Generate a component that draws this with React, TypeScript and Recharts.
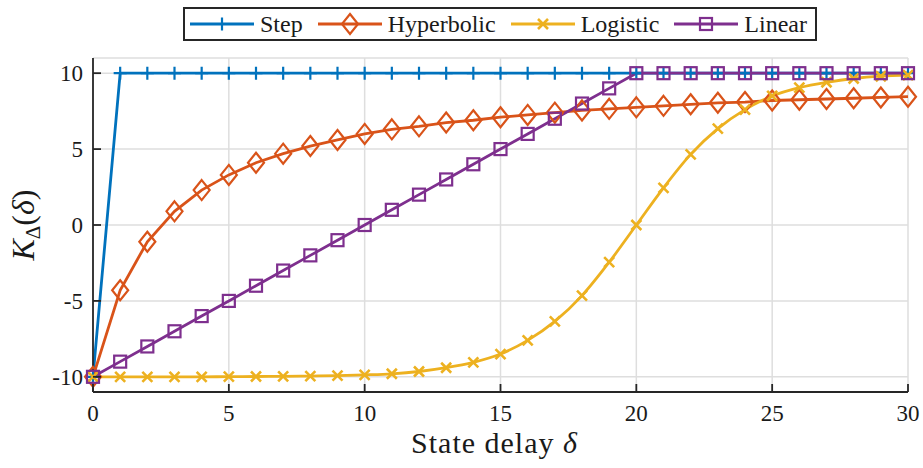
import React from 'react';
import { LineChart, Line, XAxis, YAxis, CartesianGrid, Legend } from 'recharts';

const delays = [0, 1, 2, 3, 4, 5, 6, 7, 8, 9, 10, 11, 12, 13, 14, 15, 16, 17, 18, 19, 20, 21, 22, 23, 24, 25, 26, 27, 28, 29, 30];
const stepValues = [-10, 10, 10, 10, 10, 10, 10, 10, 10, 10, 10, 10, 10, 10, 10, 10, 10, 10, 10, 10, 10, 10, 10, 10, 10, 10, 10, 10, 10, 10, 10];
const hyperbolicValues = [-10, -4.3, -1.1, 0.9, 2.3, 3.3, 4.1, 4.7, 5.2, 5.6, 6.0, 6.3, 6.5, 6.75, 6.9, 7.1, 7.25, 7.4, 7.55, 7.65, 7.75, 7.85, 7.95, 8.05, 8.1, 8.2, 8.25, 8.3, 8.35, 8.4, 8.45];
const logisticValues = [-10, -10, -10, -10, -10, -9.99, -9.98, -9.97, -9.95, -9.92, -9.87, -9.8, -9.65, -9.4, -9.05, -8.5, -7.6, -6.35, -4.65, -2.45, 0, 2.45, 4.65, 6.35, 7.6, 8.5, 9.05, 9.4, 9.65, 9.8, 9.87];
const linearValues = [-10, -9, -8, -7, -6, -5, -4, -3, -2, -1, 0, 1, 2, 3, 4, 5, 6, 7, 8, 9, 10, 10, 10, 10, 10, 10, 10, 10, 10, 10, 10];

const xTicks = [0, 5, 10, 15, 20, 25, 30];
const yTicks = [-10, -5, 0, 5, 10];

const seriesNames = ['Step', 'Hyperbolic', 'Logistic', 'Linear'];
const seriesKeys = ['step', 'hyperbolic', 'logistic', 'linear'];
const seriesColors = ['#0072BD', '#D95319', '#EDB120', '#7E2F8E'];
const seriesMarkers = ['plus', 'diamond', 'cross', 'square'];

const data = delays.map((d, i) => ({
  delay: d,
  step: stepValues[i],
  hyperbolic: hyperbolicValues[i],
  logistic: logisticValues[i],
  linear: linearValues[i],
}));

const FONT = "'Liberation Serif', 'DejaVu Serif', serif";
const AXIS = '#262626';
const TEXT = '#1a1a1a';
const TICK_LEN = 8;
const textStyle = (size: number) => ({ fontFamily: FONT, fontSize: size });

function Marker({ kind, cx, cy, color }: any) {
  if (cx == null || cy == null) return null;
  const common = { stroke: color, strokeWidth: 2.2, fill: 'none' };
  switch (kind) {
    case 'plus':
      return <path d={`M${cx - 6.5},${cy}H${cx + 6.5}M${cx},${cy - 6.5}V${cy + 6.5}`} {...common} />;
    case 'diamond':
      return <path d={`M${cx},${cy - 10}L${cx + 8},${cy}L${cx},${cy + 10}L${cx - 8},${cy}Z`} {...common} />;
    case 'cross':
      return <path d={`M${cx - 5},${cy - 5}L${cx + 5},${cy + 5}M${cx - 5},${cy + 5}L${cx + 5},${cy - 5}`} {...common} strokeWidth={2.6} />;
    default:
      return <rect x={cx - 6} y={cy - 6} width={12} height={12} {...common} />;
  }
}

const BottomTick = (p: any) => (
  <g>
    <line x1={p.x} x2={p.x} y1={p.y} y2={p.y - TICK_LEN} stroke={AXIS} strokeWidth={1.8} />
    <text x={p.x} y={p.y + 29} textAnchor="middle" style={textStyle(23)} fill={TEXT}>
      {String(p.payload.value)}
    </text>
  </g>
);
const TopTick = (p: any) => (
  <line x1={p.x} x2={p.x} y1={p.y} y2={p.y + TICK_LEN} stroke={AXIS} strokeWidth={1.8} />
);
const LeftTick = (p: any) => (
  <g>
    <line x1={p.x} x2={p.x + TICK_LEN} y1={p.y} y2={p.y} stroke={AXIS} strokeWidth={1.8} />
    <text x={p.x - 10} y={p.y + 8} textAnchor="end" style={textStyle(23)} fill={TEXT}>
      {String(p.payload.value)}
    </text>
  </g>
);
const RightTick = (p: any) => (
  <line x1={p.x} x2={p.x - TICK_LEN} y1={p.y} y2={p.y} stroke={AXIS} strokeWidth={1.8} />
);

const YLabel = ({ viewBox }: any) => {
  const cx = viewBox.x + 34;
  const cy = viewBox.y + viewBox.height / 2;
  return (
    <text transform={`translate(${cx},${cy}) rotate(-90)`} textAnchor="middle" style={textStyle(32)} fill={TEXT}>
      <tspan fontStyle="italic">K</tspan>
      <tspan fontSize={21} dy={6}>Δ</tspan>
      <tspan dy={-6}>(</tspan>
      <tspan fontStyle="italic">δ</tspan>
      <tspan>)</tspan>
    </text>
  );
};

const XLabel = ({ viewBox }: any) => {
  const cx = viewBox.x + viewBox.width / 2 - 6;
  const cy = viewBox.y + 61;
  return (
    <text x={cx} y={cy} textAnchor="middle" style={{ ...textStyle(30), letterSpacing: 1 }} fill={TEXT}>
      State delay <tspan fontStyle="italic">δ</tspan>
    </text>
  );
};

const LegendBox = () => (
  <div
    style={{
      display: 'flex',
      alignItems: 'center',
      border: `2px solid ${AXIS}`,
      background: '#fff',
      height: 30,
      paddingLeft: 5,
      paddingRight: 8,
      fontFamily: FONT,
      fontSize: 24,
      color: TEXT,
      whiteSpace: 'nowrap',
      boxSizing: 'content-box',
    }}
  >
    {seriesNames.map((name, i) => (
      <div key={name} style={{ display: 'flex', alignItems: 'center', marginRight: i < seriesNames.length - 1 ? 15 : 0 }}>
        <svg width={64} height={30} style={{ display: 'block', marginRight: 6 }}>
          <line x1={0} x2={64} y1={15} y2={15} stroke={seriesColors[i]} strokeWidth={2.8} />
          <Marker kind={seriesMarkers[i]} cx={32} cy={15} color={seriesColors[i]} />
        </svg>
        <span style={{ lineHeight: '30px', fontFamily: FONT }}>{name}</span>
      </div>
    ))}
  </div>
);

export default function App() {
  return (
    <div style={{ position: 'absolute', left: 0, top: 0, width: 923, height: 468, background: '#fff', fontFamily: FONT }}>
      <LineChart width={923} height={468} data={data} margin={{ top: 58, right: 15, bottom: 0, left: 0 }} style={{ fontFamily: FONT }}>
        <CartesianGrid stroke="#dedede" strokeWidth={1.5} />
        <XAxis
          dataKey="delay"
          type="number"
          domain={[0, 30]}
          ticks={xTicks}
          height={76}
          tickSize={0}
          tickMargin={0}
          tick={BottomTick}
          axisLine={{ stroke: AXIS, strokeWidth: 1.8 }}
          label={<XLabel />}
          interval={0}
        />
        <XAxis
          xAxisId="top"
          dataKey="delay"
          orientation="top"
          type="number"
          domain={[0, 30]}
          ticks={xTicks}
          height={0}
          tickSize={0}
          tickMargin={0}
          tick={TopTick}
          axisLine={{ stroke: AXIS, strokeWidth: 1.8 }}
          interval={0}
        />
        <YAxis
          type="number"
          domain={[-11, 11]}
          ticks={yTicks}
          width={93}
          tickSize={0}
          tickMargin={0}
          tick={LeftTick}
          axisLine={{ stroke: AXIS, strokeWidth: 1.8 }}
          label={<YLabel />}
          interval={0}
        />
        <YAxis
          yAxisId="right"
          orientation="right"
          type="number"
          domain={[-11, 11]}
          ticks={yTicks}
          width={0}
          tickSize={0}
          tickMargin={0}
          tick={RightTick}
          axisLine={{ stroke: AXIS, strokeWidth: 1.8 }}
          interval={0}
        />
        <Legend
          layout="vertical"
          align="center"
          verticalAlign="middle"
          wrapperStyle={{ top: 7, left: 183, width: 'auto', height: 'auto' }}
          content={<LegendBox />}
        />
        {seriesKeys.map((k, i) => (
          <Line
            key={k}
            dataKey={k}
            name={seriesNames[i]}
            type={k === 'logistic' ? 'monotone' : 'linear'}
            stroke={seriesColors[i]}
            strokeWidth={2.8}
            isAnimationActive={false}
            activeDot={false}
            dot={(p: any) => <Marker key={`${k}-${p.index}`} kind={seriesMarkers[i]} cx={p.cx} cy={p.cy} color={seriesColors[i]} />}
          />
        ))}
      </LineChart>
    </div>
  );
}
